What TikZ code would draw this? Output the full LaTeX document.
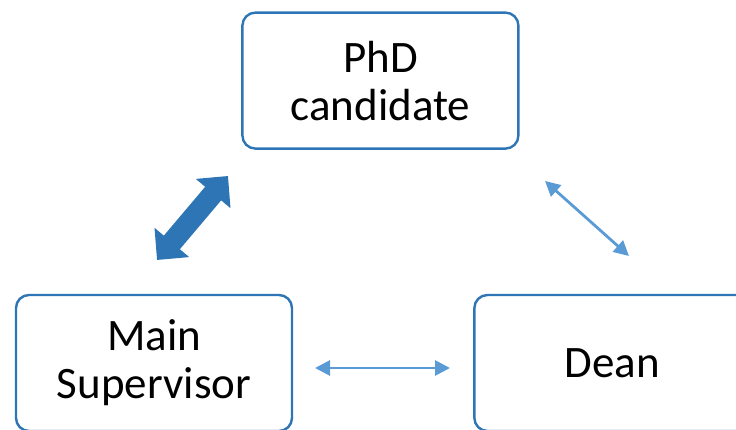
\documentclass[tikz,border=0pt]{standalone}
\usepackage{fontspec}
\setmainfont{Carlito}
\usetikzlibrary{positioning,arrows.meta}

\definecolor{boxblue}{HTML}{2E75B6}
\definecolor{linkblue}{HTML}{5B9BD5}

\begin{document}
\begin{tikzpicture}[x=1pt,y=1pt,
  box/.style={draw=boxblue, line width=2.4pt, rounded corners=13pt,
    minimum width=276pt, minimum height=136pt, align=center,
    font=\fontsize{45}{48}\selectfont},
  biglink/.style={draw=boxblue, line width=21pt,
    {Triangle[width=44pt,length=23pt]}-{Triangle[width=44pt,length=23pt]}},
  link/.style={draw=linkblue, line width=2.8pt,
    {Triangle[width=15pt,length=15pt]}-{Triangle[width=15pt,length=15pt]}}]
 \useasboundingbox (0,0) rectangle (736,-430);
 \clip (0,0) rectangle (736,-430);
 \node [box] (super) at (154,-363) {Main\\Supervisor};
 \node [box, right=180pt of super] (dean) {Dean};
 \node [box, above right=144pt and -52pt of super] (phd) {PhD\\candidate};
 \coordinate (sup_tip) at (157,-260);
 \coordinate (phd_tip) at (228,-176);
 \coordinate (phd_end) at (545,-181);
 \coordinate (dean_end) at (629,-256);
 \coordinate (sup_end) at (315,-368);
 \coordinate (dean_west) at (450,-368);
 \draw [biglink] (sup_tip) -- (phd_tip);
 \draw [link] (phd_end) -- (dean_end);
 \draw [link] (sup_end) -- (dean_west);
\end{tikzpicture}
\end{document}
